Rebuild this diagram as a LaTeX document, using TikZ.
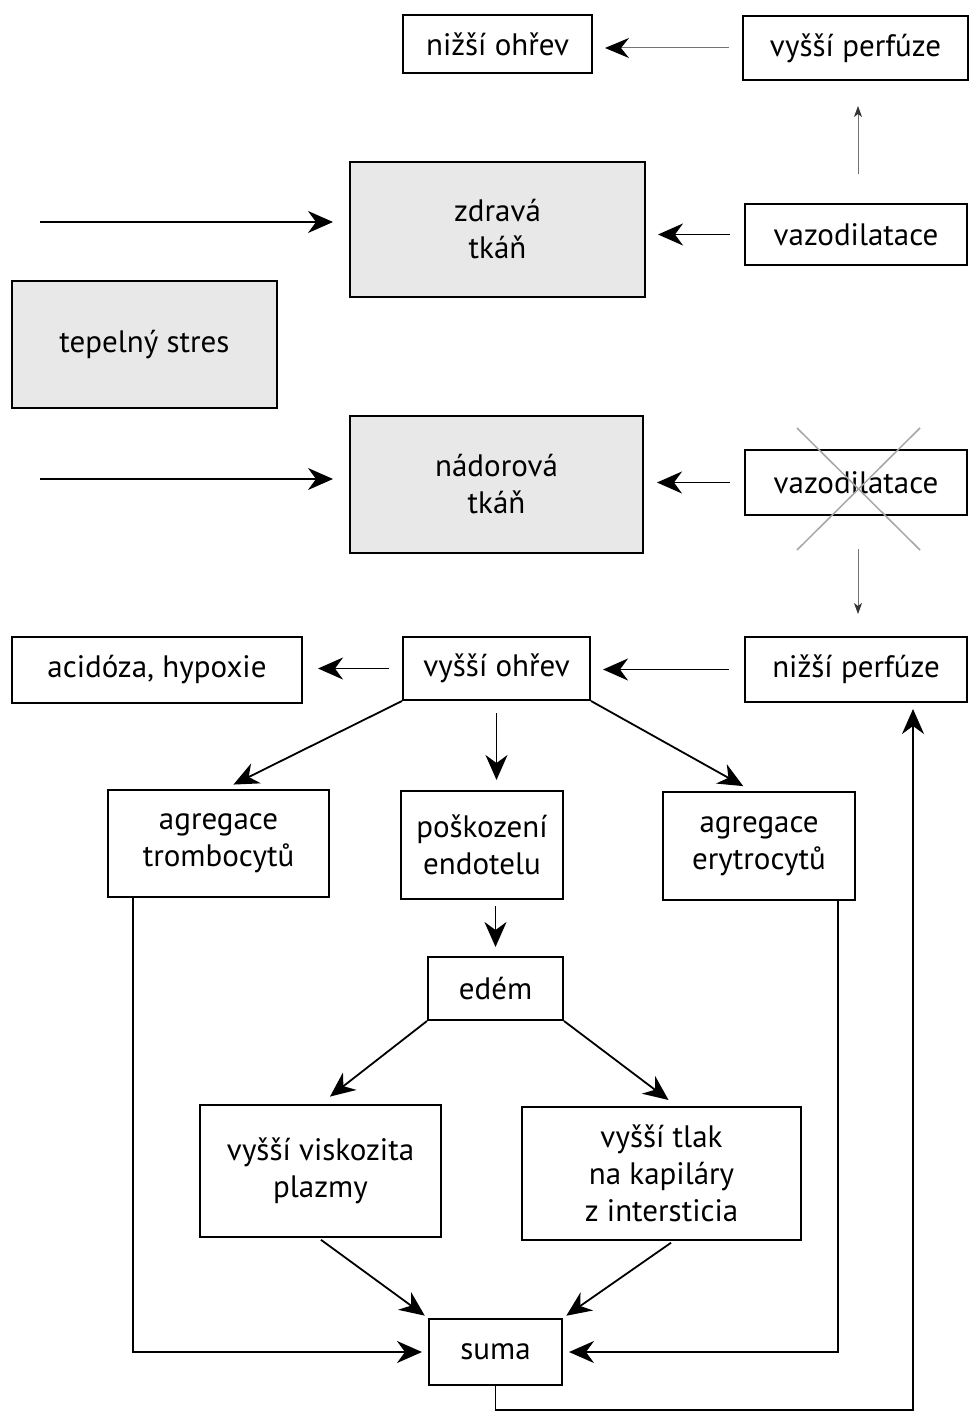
\documentclass[tikz,border=0pt]{standalone}
\usepackage{fontspec}
\setmainfont{PT Sans}
\usetikzlibrary{arrows.meta}
\tikzset{
  box/.style={draw, line width=2pt, inner sep=0pt, align=center, font=\fontsize{31}{37}\selectfont},
  graybox/.style={box, fill=black!9},
  arr/.style={line width=1.8pt, -{Stealth[length=25pt,width=22pt,inset=8pt]}},
  grayarr/.style={line width=1pt, draw=black!55, -{Stealth[length=24pt,width=20pt,inset=8pt,color=black]}},
  thinarr/.style={line width=1pt, draw=black!55, -{Stealth[length=11pt,width=8pt,inset=3pt,color=black!80]}},
  crossline/.style={line width=1.5pt, draw=black!35},
}
\begin{document}
\begin{tikzpicture}[x=1pt,y=-1pt]
\useasboundingbox[fill=white] (0,0) rectangle (970,1412);
% nodes
\node[box, minimum width=189, minimum height=58] (nizohrev) at (497.5,44) {nižší ohřev};
\node[box, minimum width=225, minimum height=64] (vysperf) at (855.5,48) {vyšší perfúze};
\node[graybox, minimum width=295, minimum height=135] (zdrava) at (497.5,229.5) {zdravá\\tkáň};
\node[box, minimum width=222, minimum height=61] (vazo1) at (856,234.5) {vazodilatace};
\node[graybox, minimum width=265, minimum height=127] (tepelny) at (144.5,344.5) {tepelný stres};
\node[graybox, minimum width=293, minimum height=137] (nadorova) at (496.5,484.5) {nádorová\\tkáň};
\node[box, minimum width=222, minimum height=65] (vazo2) at (856,482.5) {vazodilatace};
\node[box, minimum width=222, minimum height=65] (nizperf) at (856,669.5) {nižší perfúze};
\node[box, minimum width=187, minimum height=63] (vysohrev) at (496.5,668.5) {vyšší ohřev};
\node[box, minimum width=290, minimum height=66] (acid) at (157,670) {acidóza, hypoxie};
\node[box, minimum width=221, minimum height=107] (agtromb) at (218.5,843.5) {agregace\\trombocytů};
\node[box, minimum width=162, minimum height=108] (posk) at (482,845) {poškození\\endotelu};
\node[box, minimum width=192, minimum height=108] (agery) at (759,846) {agregace\\erytrocytů};
\node[box, minimum width=135, minimum height=63] (edem) at (495.5,988.5) {edém};
\node[box, minimum width=241, minimum height=132] (visk) at (320.5,1171) {vyšší viskozita\\plazmy};
\node[box, minimum width=279, minimum height=133] (tlak) at (661.5,1173.5) {vyšší tlak\\na kapiláry\\z intersticia};
\node[box, minimum width=133, minimum height=66] (suma) at (495.5,1352) {suma};
% cross over vazodilatace
\draw[crossline] (797,428) -- (920,550);
\draw[crossline] (920,428) -- (797,550);
% free ends
\coordinate (in1) at (40,222);
\coordinate (in2) at (40,479);
\coordinate (bot) at (495.5,1410);
% connectors
\draw[grayarr, shorten <=13, shorten >=12] (vysperf.west) -- (nizohrev.east |- vysperf.west);
\draw[thinarr, shorten <=29, shorten >=25] ([xshift=2]vazo1.north) -- ([xshift=2]vazo1.north |- vysperf.south);
\draw[arr, shorten <=14, shorten >=12] (vazo1.west) -- (zdrava.east |- vazo1.west);
\draw[arr, shorten >=16] (in1) -- (zdrava.west |- in1);
\draw[arr, shorten >=16] (in2) -- (nadorova.west |- in2);
\draw[arr, shorten <=14, shorten >=13] (vazo2.west) -- (nadorova.east |- vazo2.west);
\draw[thinarr, shorten <=33, shorten >=22] ([xshift=2]vazo2.south) -- ([xshift=2]vazo2.south |- nizperf.north);
\draw[arr, shorten <=15, shorten >=12] (nizperf.west) -- (vysohrev.east |- nizperf.west);
\draw[arr, shorten <=13, shorten >=15] (vysohrev.west) -- (acid.east |- vysohrev.west);
\draw[arr, shorten >=10] (vysohrev.south west) -- ([xshift=6]agtromb.north);
\draw[arr, shorten <=12, shorten >=10] (vysohrev.south) -- (vysohrev.south |- posk.north);
\draw[arr, shorten >=10] (vysohrev.south east) -- ([xshift=-7]agery.north);
\draw[arr, shorten <=6, shorten >=9] (edem.north |- posk.south) -- (edem.north);
\draw[arr, shorten >=12] (edem.south west) -- (visk.north);
\draw[arr, shorten >=10] (edem.south east) -- ([xshift=15]tlak.north);
\draw[arr, shorten <=3, shorten >=4] ([xshift=-2]visk.south) -- (suma.north west);
\draw[arr, shorten <=3, shorten >=4] ([xshift=12]tlak.south) -- (suma.north east);
\draw[arr, shorten >=6] ([xshift=-85.5]agtromb.south) |- (suma.west);
\draw[arr, shorten >=6] ([xshift=79]agery.south) |- (suma.east);
\draw[arr, shorten >=6] (suma.south) -- (bot) -| ([xshift=57]nizperf.south);
\end{tikzpicture}
\end{document}
